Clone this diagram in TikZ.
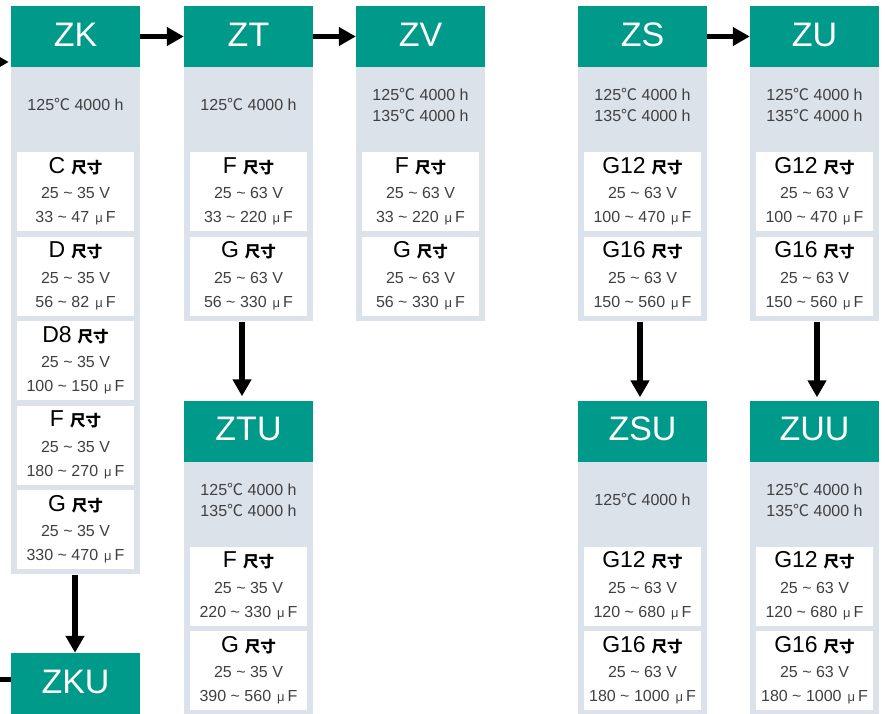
\documentclass[tikz,border=0pt]{standalone}
\usepackage{fontspec}
\setmainfont{Liberation Sans}
\newfontfamily\cjk{Noto Sans CJK SC}
\usetikzlibrary{arrows.meta}
\definecolor{hdrteal}{HTML}{009A8A}
\definecolor{panelgray}{HTML}{DCE2EA}
\definecolor{txtgray}{HTML}{404040}
\newcommand{\dc}{{\cjk ℃}}
\newcommand{\tl}{\textasciitilde}
\newcommand{\szt}[1]{{\fontsize{23}{23}\selectfont #1}\hspace{6pt}{\cjk\bfseries\fontsize{15.5}{15.5}\selectfont 尺寸}}
\newcommand{\uf}{\hspace{6pt}{\fontsize{13}{13}\selectfont μ}\hspace{3pt}F}
\newcommand{\sizebox}[6]{%
  \node[szbox, anchor=north] (#1) at (#2,#3) {};
  \node[ttl] (#1t) at ([yshift=-13pt]#1.north) {\szt{#4}};
  \node[lntxt] (#1v) at ([yshift=-41pt]#1.north) {#5};
  \node[lntxt] (#1c) at ([yshift=-65pt]#1.north) {#6\uf};
}
\begin{document}
\begin{tikzpicture}[x=1pt,y=-1pt,
  hdr/.style={rectangle, fill=hdrteal, minimum width=129pt, minimum height=61pt, inner sep=0pt,
    text=white, font=\fontsize{34}{34}\selectfont, text height=24pt, text depth=5pt},
  panel/.style={rectangle, fill=panelgray, minimum width=129pt, inner sep=0pt, anchor=north},
  szbox/.style={rectangle, fill=white, minimum width=117pt, minimum height=79pt, inner sep=0pt},
  ttl/.style={inner sep=0pt, text=black, text height=16.5pt, text depth=0pt},
  lntxt/.style={inner sep=0pt, text=txtgray, font=\fontsize{16}{16}\selectfont, text height=11.5pt, text depth=0pt},
  temp/.style={inner sep=0pt, text=txtgray, font=\fontsize{16}{16}\selectfont, text height=11.5pt, text depth=0pt},
  arr/.style={line width=5.5pt, -{Triangle[length=17pt,width=18pt]}},
  plain/.style={line width=5.5pt}
]
\useasboundingbox (0,0) rectangle (885,713);

% ---------- headers and panels, top row ----------
\node[hdr] (zk) at (75.5,36.5) {ZK};
\node[panel, minimum height=507pt] (zkp) at (zk.south) {};
\node[hdr] (zt) at (248.5,36.5) {ZT};
\node[panel, minimum height=254pt] (ztp) at (zt.south) {};
\node[hdr] (zv) at (420.5,36.5) {ZV};
\node[panel, minimum height=254pt] (zvp) at (zv.south) {};
\node[hdr] (zs) at (642.5,36.5) {ZS};
\node[panel, minimum height=254pt] (zsp) at (zs.south) {};
\node[hdr] (zu) at (814.5,36.5) {ZU};
\node[panel, minimum height=254pt] (zup) at (zu.south) {};

% ---------- headers and panels, lower row ----------
\node[hdr] (zku) at (75.5,683.5) {ZKU};
\node[hdr] (ztu) at (248.5,431) {ZTU};
\node[panel, minimum height=256pt] (ztup) at (ztu.south) {};
\node[hdr] (zsu) at (642.5,431) {ZSU};
\node[panel, minimum height=256pt] (zsup) at (zsu.south) {};
\node[hdr] (zuu) at (814.5,431) {ZUU};
\node[panel, minimum height=256pt] (zuup) at (zuu.south) {};

% ---------- temperatures ----------
\node[temp] (zkt) at (75.5,105) {125\dc{} 4000 h};
\node[temp] (ztt) at (248.5,105) {125\dc{} 4000 h};
\node[temp] (zvt1) at (420.5,95) {125\dc{} 4000 h};
\node[temp] (zvt2) at (420.5,116) {135\dc{} 4000 h};
\node[temp] (zst1) at (642.5,95) {125\dc{} 4000 h};
\node[temp] (zst2) at (642.5,116) {135\dc{} 4000 h};
\node[temp] (zut1) at (814.5,95) {125\dc{} 4000 h};
\node[temp] (zut2) at (814.5,116) {135\dc{} 4000 h};
\node[temp] (ztut1) at (248.5,490) {125\dc{} 4000 h};
\node[temp] (ztut2) at (248.5,511) {135\dc{} 4000 h};
\node[temp] (zsut) at (642.5,500) {125\dc{} 4000 h};
\node[temp] (zuut1) at (814.5,490) {125\dc{} 4000 h};
\node[temp] (zuut2) at (814.5,511) {135\dc{} 4000 h};

% ---------- size boxes ----------
\sizebox{zkc}{75.5}{152}{C}{25 \tl{} 35 V}{33 \tl{} 47}
\sizebox{zkd}{75.5}{236.5}{D}{25 \tl{} 35 V}{56 \tl{} 82}
\sizebox{zkdd}{75.5}{321}{D8}{25 \tl{} 35 V}{100 \tl{} 150}
\sizebox{zkf}{75.5}{405.5}{F}{25 \tl{} 35 V}{180 \tl{} 270}
\sizebox{zkg}{75.5}{490}{G}{25 \tl{} 35 V}{330 \tl{} 470}

\sizebox{ztf}{248.5}{152}{F}{25 \tl{} 63 V}{33 \tl{} 220}
\sizebox{ztg}{248.5}{236.5}{G}{25 \tl{} 63 V}{56 \tl{} 330}
\sizebox{zvf}{420.5}{152}{F}{25 \tl{} 63 V}{33 \tl{} 220}
\sizebox{zvg}{420.5}{236.5}{G}{25 \tl{} 63 V}{56 \tl{} 330}
\sizebox{zsa}{642.5}{152}{G12}{25 \tl{} 63 V}{100 \tl{} 470}
\sizebox{zsb}{642.5}{236.5}{G16}{25 \tl{} 63 V}{150 \tl{} 560}
\sizebox{zua}{814.5}{152}{G12}{25 \tl{} 63 V}{100 \tl{} 470}
\sizebox{zub}{814.5}{236.5}{G16}{25 \tl{} 63 V}{150 \tl{} 560}

\sizebox{ztuf}{248.5}{546.5}{F}{25 \tl{} 35 V}{220 \tl{} 330}
\sizebox{ztug}{248.5}{631}{G}{25 \tl{} 35 V}{390 \tl{} 560}
\sizebox{zsua}{642.5}{546.5}{G12}{25 \tl{} 63 V}{120 \tl{} 680}
\sizebox{zsub}{642.5}{631}{G16}{25 \tl{} 63 V}{180 \tl{} 1000}
\sizebox{zuua}{814.5}{546.5}{G12}{25 \tl{} 63 V}{120 \tl{} 680}
\sizebox{zuub}{814.5}{631}{G16}{25 \tl{} 63 V}{180 \tl{} 1000}

% ---------- connectors ----------
\coordinate (inzk) at (-30,62);
\draw[arr, shorten >=2pt] (inzk) -- (inzk -| zk.west);
\coordinate (inzku) at (-10,679.5);
\draw[plain] (inzku) -- (inzku -| zku.west);
\draw[arr] (zk.east) -- (zt.west);
\draw[arr] (zt.east) -- (zv.west);
\draw[arr] (zs.east) -- (zu.west);
\draw[arr] ([xshift=-0.5pt]zkp.south) -- ([xshift=-0.5pt]zku.north);
\draw[arr, shorten >=4pt] ([xshift=-6.5pt]ztp.south) -- ([xshift=-6.5pt]ztu.north);
\draw[arr, shorten >=3pt] ([xshift=-2.5pt]zsp.south) -- ([xshift=-2.5pt]zsu.north);
\draw[arr, shorten >=3pt] ([xshift=2.5pt]zup.south) -- ([xshift=2.5pt]zuu.north);
\end{tikzpicture}
\end{document}
